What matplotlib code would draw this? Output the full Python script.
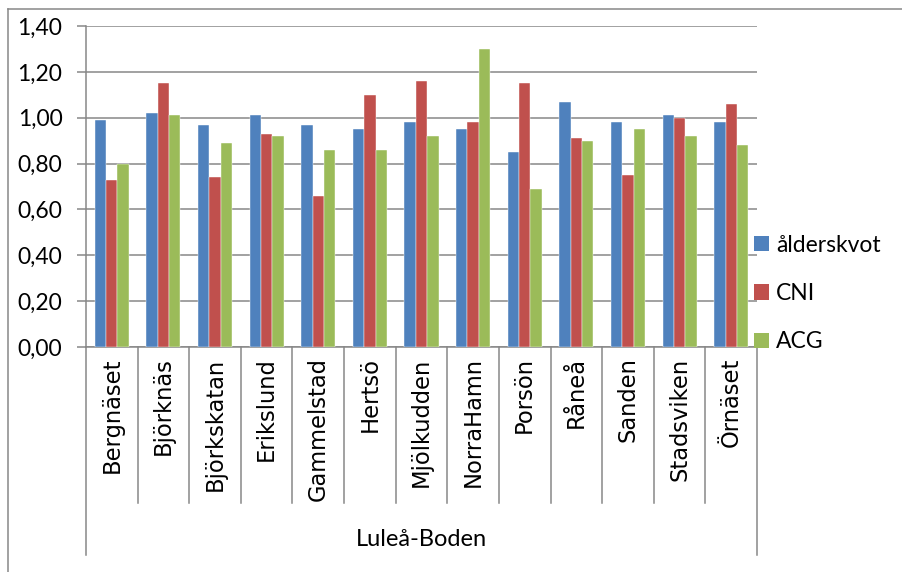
import matplotlib
matplotlib.use("Agg")
import matplotlib.pyplot as plt
from matplotlib.lines import Line2D
from matplotlib.patches import Patch
from matplotlib.ticker import FuncFormatter
import numpy as np

plt.rcParams['font.family'] = ['Lato', 'DejaVu Sans']

categories = ["Bergnäset", "Björknäs", "Björkskatan", "Erikslund", "Gammelstad", "Hertsö",
              "Mjölkudden", "NorraHamn", "Porsön", "Råneå", "Sanden", "Stadsviken", "Örnäset"]
alderskvot = [0.99, 1.02, 0.97, 1.01, 0.97, 0.95, 0.98, 0.95, 0.85, 1.07, 0.98, 1.01, 0.98]
cni = [0.73, 1.15, 0.74, 0.93, 0.66, 1.10, 1.16, 0.98, 1.15, 0.91, 0.75, 1.00, 1.06]
acg = [0.80, 1.01, 0.89, 0.92, 0.86, 0.86, 0.92, 1.30, 0.69, 0.90, 0.95, 0.92, 0.88]
series_names = ["ålderskvot", "CNI", "ACG"]
group_label = "Luleå-Boden"
yticks = [0.0, 0.2, 0.4, 0.6, 0.8, 1.0, 1.2, 1.4]

colors = ["#4F81BD", "#C0504D", "#9BBB59"]
gray = "#878787"

W, H = 903, 572
fig = plt.figure(figsize=(W / 100, H / 100), dpi=100)

# outer chart frame (right and bottom edges fall outside the image)
fig.add_artist(Line2D([8 / W, 8 / W], [0, 1 - 9 / H], transform=fig.transFigure, color=gray, lw=1.1))
fig.add_artist(Line2D([8 / W, 1], [1 - 9 / H, 1 - 9 / H], transform=fig.transFigure, color=gray, lw=1.1))

left, right, top, bottom = 86, 757, 26, 347
ax = fig.add_axes([left / W, 1 - bottom / H, (right - left) / W, (bottom - top) / H])

x = np.arange(len(categories))
bw = 0.22
for i, (vals, c, name) in enumerate(zip([alderskvot, cni, acg], colors, series_names)):
    ax.bar(x + (i - 1) * bw, vals, width=bw, color=c, edgecolor="#ffffff", linewidth=0.3,
           label=name, zorder=3)

ax.set_xlim(-0.5, len(categories) - 0.5)
ax.set_ylim(0, 1.4)
ax.set_yticks(yticks)
ax.yaxis.set_major_formatter(FuncFormatter(lambda v, p: f"{v:.2f}".replace(".", ",")))
ax.grid(axis="y", color=gray, lw=1.1, zorder=0)
ax.set_axisbelow(True)

for s in ["top", "right"]:
    ax.spines[s].set_visible(False)
for s in ["left", "bottom"]:
    ax.spines[s].set_color(gray)
    ax.spines[s].set_linewidth(1.1)

ax.tick_params(axis="y", length=6.5, width=1.1, color=gray, pad=10.5, labelsize=16.5)
ax.set_xticks(x)
ax.set_xticklabels(categories, rotation=90, va="top", ha="center")
for lab in ax.get_xticklabels():
    lab.set_fontfamily("DejaVu Sans")
    lab.set_fontsize(16.3)
ax.tick_params(axis="x", length=0, pad=7.5)

# category divider lines
ah = bottom - top
y_div = -(503 - bottom) / ah
y_grp = -(555 - bottom) / ah
trans = ax.get_xaxis_transform()
for k in range(len(categories) + 1):
    yy = y_grp if k in (0, len(categories)) else y_div
    ax.add_line(Line2D([k - 0.5, k - 0.5], [0, yy], transform=trans, color=gray, lw=1.1,
                       clip_on=False))

fig.text((left + right) / 2 / W, 1 - 540 / H, group_label, ha="center", va="center", fontsize=17)

handles = [Patch(facecolor=c, edgecolor="none") for c in colors]
fig.legend(handles, series_names, loc="center left", bbox_to_anchor=(754 / W, 1 - 293.5 / H),
           frameon=False, fontsize=16.5, handlelength=0.655, handleheight=0.655,
           handletextpad=0.3, labelspacing=1.2, borderpad=0, borderaxespad=0)

fig.savefig("out.png", dpi=100)
